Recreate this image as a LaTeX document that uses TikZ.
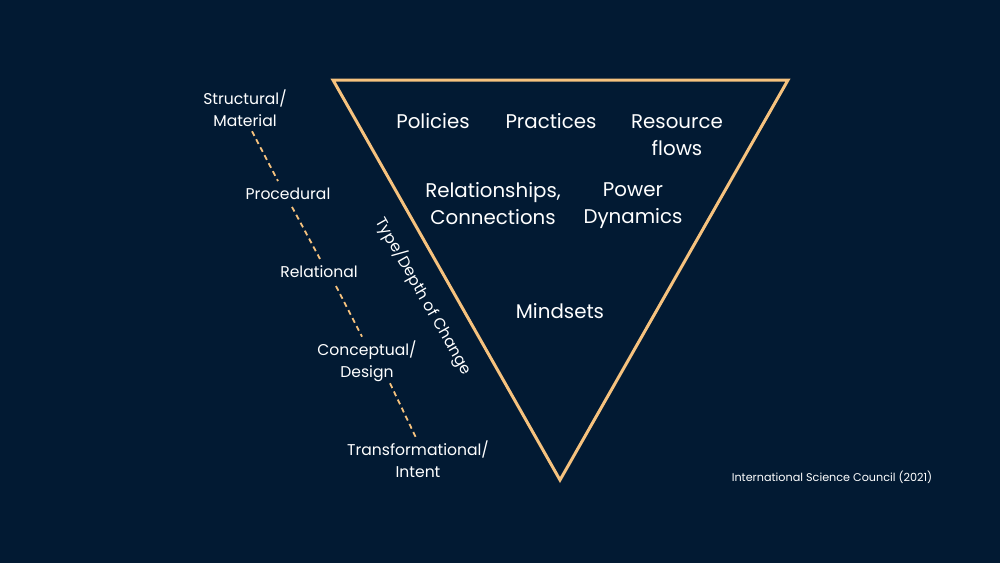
\documentclass[tikz,border=0pt]{standalone}
\usepackage{fontspec}
\setmainfont{Poppins}
\usetikzlibrary{positioning}
\definecolor{navy}{HTML}{021A33}
\definecolor{peach}{HTML}{F6C27E}

\begin{document}
\begin{tikzpicture}[x=0.5pt,y=-0.5pt,
  big/.style={text=white,align=center,font=\fontsize{9.9}{13.5}\selectfont},
  small/.style={text=white,align=center,font=\fontsize{7.8}{10.8}\selectfont},
  link/.style={peach,line width=0.9pt,dash pattern=on 2.6pt off 1.9pt}]
\fill[navy] (0,0) rectangle (1000,563);
\useasboundingbox (0,0) rectangle (1000,563);

\coordinate (TL) at (333,80);
\coordinate (TR) at (788,80);
\coordinate (B) at (560,480);
\draw[peach,line width=1.5pt,line join=miter] (TL) -- (TR) -- (B) -- cycle;

\node (POL) [big] at (433,121) {Policies};
\node (PRA) [big] at (551,121) {Practices};
\node (RES) [big] at (677,135) {Resource\\flows};
\node (REL) [big] at (493,204) {Relationships,\\Connections};
\node (POW) [big] at (633,206) {Power\\Dynamics};
\node (MIN) [big] at (560,311) {Mindsets};

\node (TYP) [small,rotate=-60.4] at (424,296) {Type/Depth of Change};

\node (STR) [small] at (245,108) {Structural/\\Material};
\node (PRO) [small] at (288,194) {Procedural};
\node (RLN) [small] at (319,272) {Relational};
\node (CON) [small] at (367,361) {Conceptual/\\Design};
\node (TRA) [small] at (418,459) {Transformational/\\Intent};

\draw[link] ([xshift=3.5pt,yshift=1pt]STR.south) -- ([xshift=-5pt]PRO.north);
\draw[link] ([xshift=2pt]PRO.south) -- ([xshift=0.5pt]RLN.north);
\draw[link] ([xshift=8.5pt,yshift=-0.5pt]RLN.south) -- ([xshift=-2.5pt,yshift=-1.5pt]CON.north);
\draw[link] ([xshift=11.5pt,yshift=2.5pt]CON.south) -- ([xshift=-1pt,yshift=-2pt]TRA.north);

\node (ISC) [small,font=\fontsize{5.6}{8}\selectfont] at (832,477) {International Science Council (2021)};
\end{tikzpicture}
\end{document}
